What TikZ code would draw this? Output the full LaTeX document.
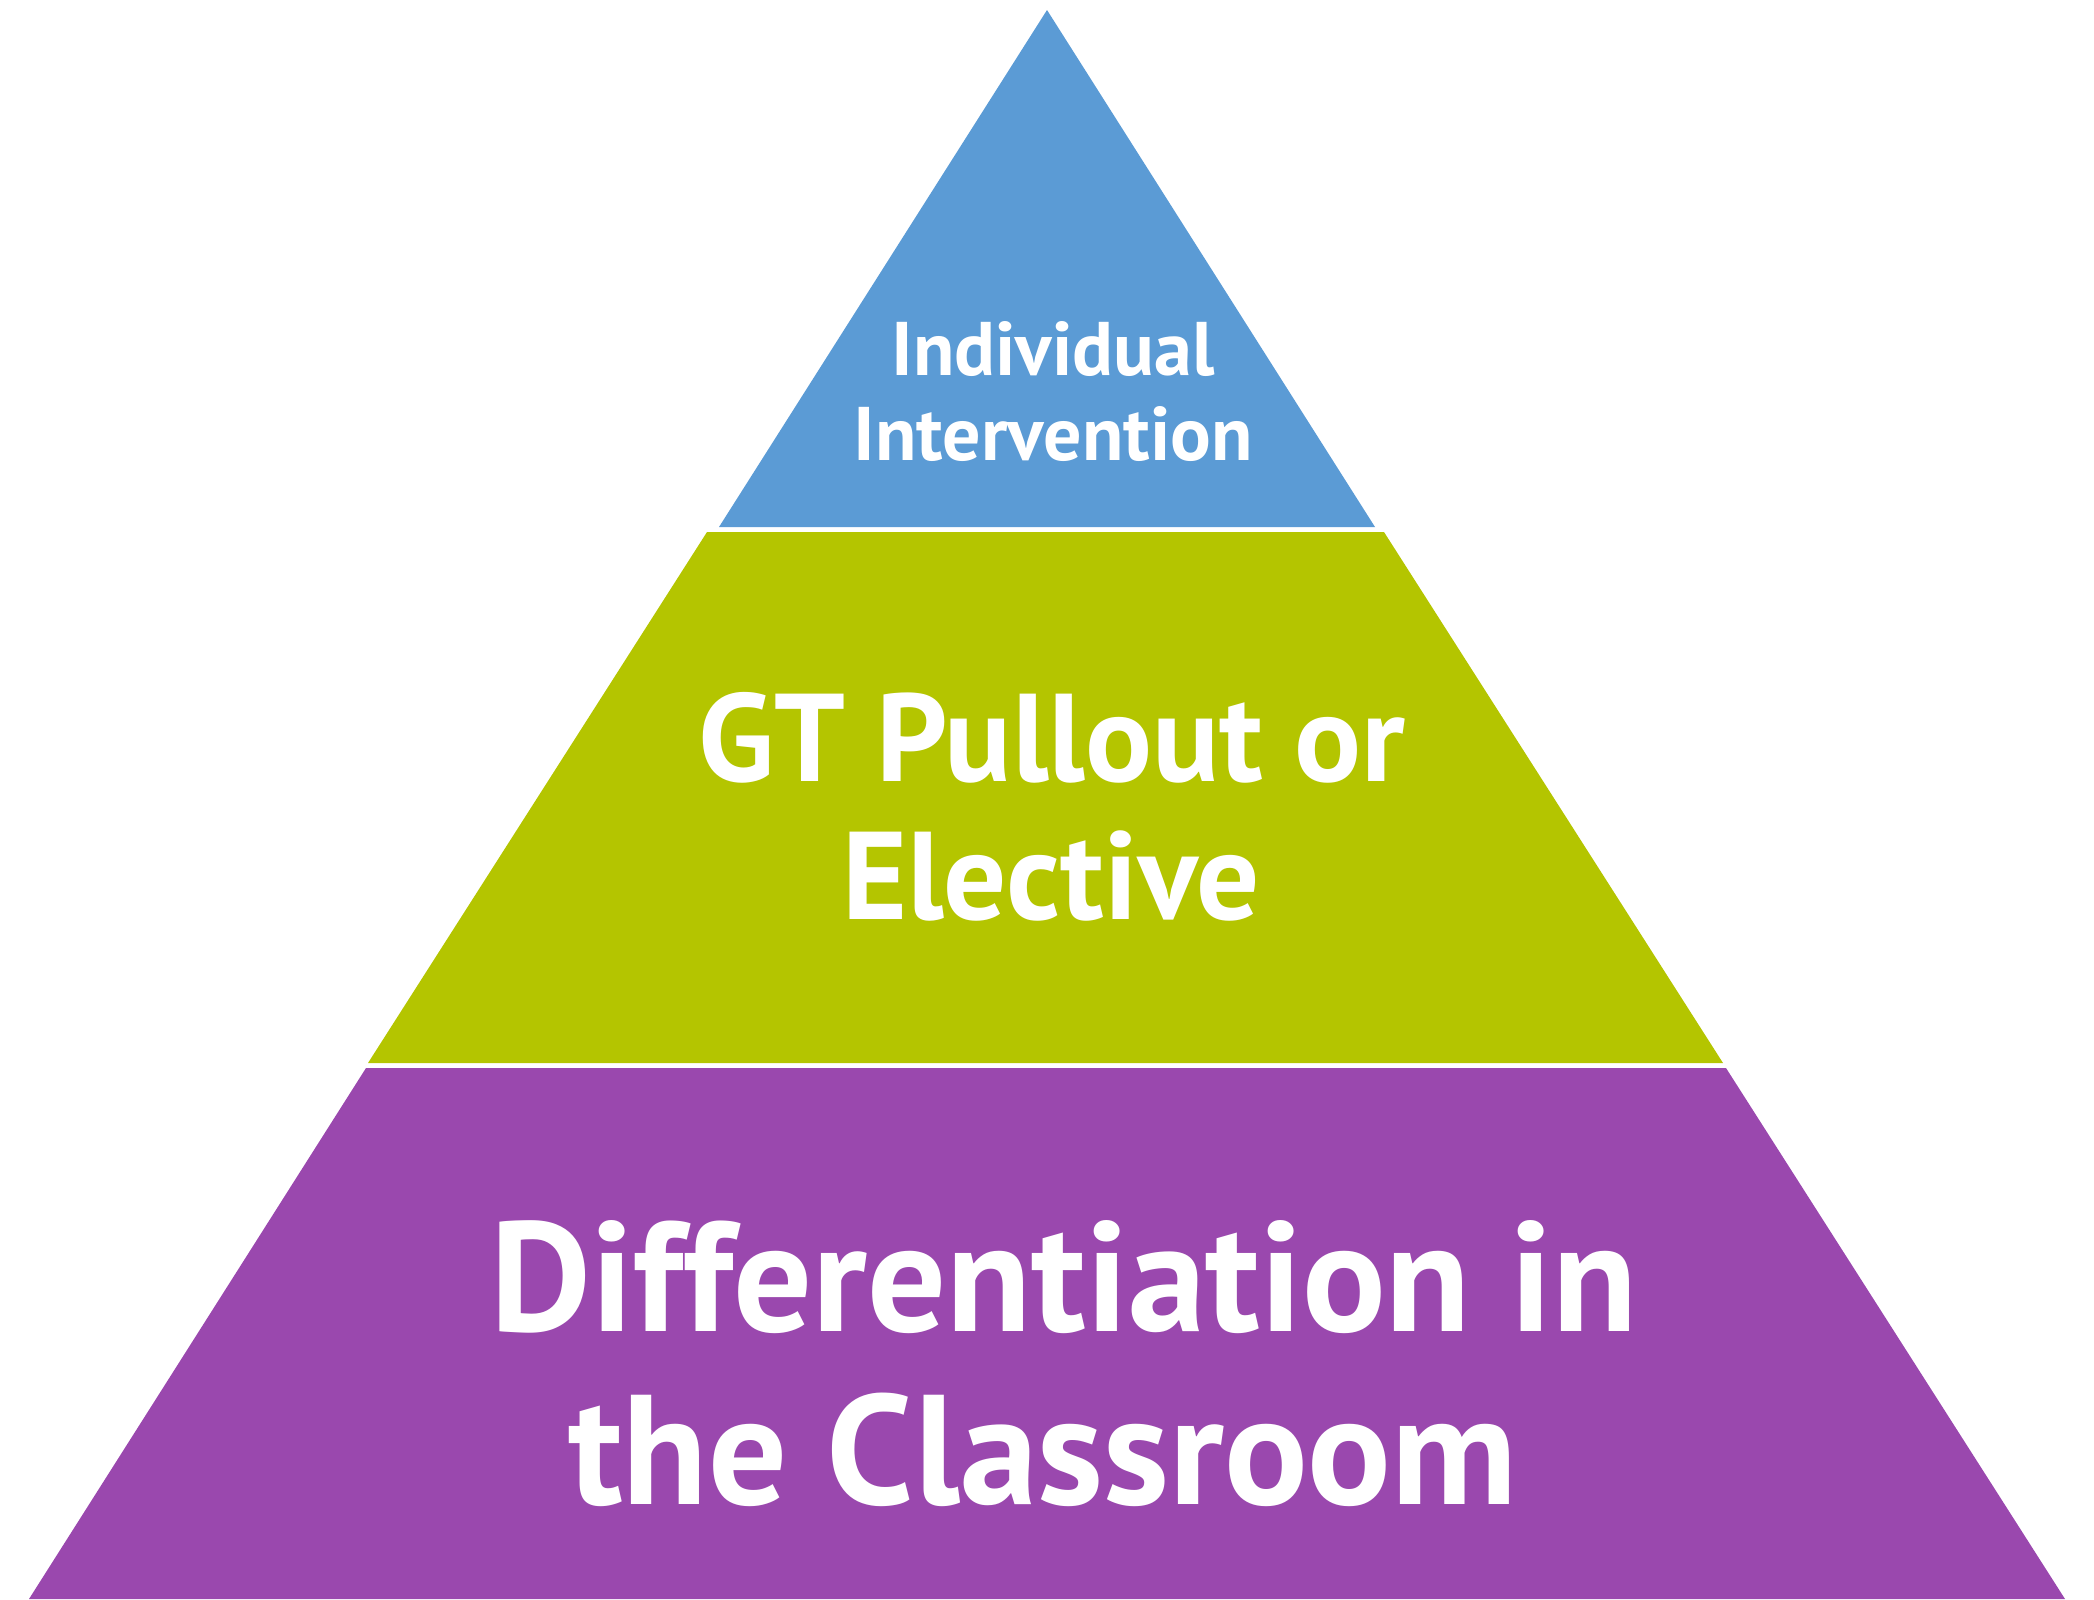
\documentclass[tikz,border=0pt]{standalone}
\usepackage{fontspec}
\setmainfont{PT Sans}
\definecolor{tblue}{HTML}{5B9BD5}
\definecolor{tgreen}{HTML}{B4C500}
\definecolor{tpurple}{HTML}{9A48AE}
\begin{document}
\begin{tikzpicture}[x=0.01cm,y=-0.01cm,
  lbl/.style={text=white,font=\bfseries,anchor=base,inner sep=0pt}]
\useasboundingbox (0,0) rectangle (2094,1599);
\fill[tblue] (1047,10) -- (1375,527) -- (719,527) -- cycle;
\fill[tgreen] (707,532) -- (1384,532) -- (1723,1063) -- (368,1063) -- cycle;
\fill[tpurple] (366,1068) -- (1726,1068) -- (2065,1599) -- (29,1599) -- cycle;
\node[lbl,font=\bfseries\fontsize{21.6}{26}\selectfont] (t1) at (1053,375) {Individual};
\node[lbl,font=\bfseries\fontsize{21.6}{26}\selectfont] (t2) at (1053,460) {Intervention};
\node[lbl,font=\bfseries\fontsize{35.5}{42}\selectfont] (m1) at (1052,781) {GT Pullout or};
\node[lbl,font=\bfseries\fontsize{35.5}{42}\selectfont] (m2) at (1051,919) {Elective};
\node[lbl,font=\bfseries\fontsize{44.4}{53}\selectfont] (b1) at (1064,1331) {Differentiation in};
\node[lbl,font=\bfseries\fontsize{44.4}{53}\selectfont] (b2) at (1043,1504) {the Classroom};
\end{tikzpicture}
\end{document}
